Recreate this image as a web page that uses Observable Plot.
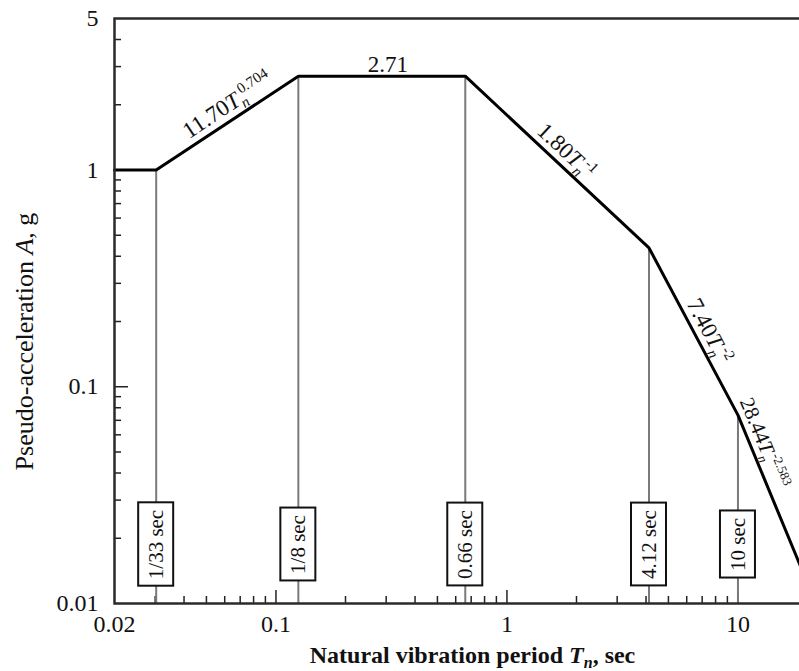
<!DOCTYPE html>
<html>
<head>
<meta charset="utf-8">
<script src="https://cdn.jsdelivr.net/npm/d3@7"></script>
<script src="https://cdn.jsdelivr.net/npm/@observablehq/plot@0.6"></script>
<style>
  html, body { margin: 0; padding: 0; background: #fff; overflow: hidden; }
  #chart svg { display: block; }
</style>
</head>
<body>
<div id="chart"></div>
<script>
// ---------- data ----------
const cornerPeriods = [0.02, 1 / 33, 1 / 8, 0.66, 4.12, 10, 20];
const cornerAccel   = [1, 1, 2.71, 2.71, 0.437, 0.074, 0.0124];

const markedPeriods = [1 / 33, 1 / 8, 0.66, 4.12, 10];
const markedAccel   = [1, 2.71, 2.71, 0.437, 0.074];
const markedLabels  = ["1/33 sec", "1/8 sec", "0.66 sec", "4.12 sec", "10 sec"];

const segStart = [1, 2, 3, 4, 5];
const segCoef  = ["11.70", "2.71", "1.80", "7.40", "28.44"];
const segExp   = ["0.704", null, "-1", "-2", "-2.583"];

const xDomain = [0.02, 20];
const yDomain = [0.01, 5];
const xTicks = [0.02, 0.1, 1, 10];
const xTickLabels = ["0.02", "0.1", "1", "10"];
const yTicks = [0.01, 0.1, 1, 5];
const yTickLabels = ["0.01", "0.1", "1", "5"];
const xMajorTicks = [0.1, 1, 10];
const xMinorTicks = [0.03, 0.04, 0.05, 0.06, 0.07, 0.08, 0.09,
                     0.2, 0.3, 0.4, 0.5, 0.6, 0.7, 0.8, 0.9,
                     2, 3, 4, 5, 6, 7, 8, 9];
const yMajorTicks = [0.1, 1];
const yMinorTicks = [0.02, 0.03, 0.04, 0.05, 0.06, 0.07, 0.08, 0.09,
                     0.2, 0.3, 0.4, 0.5, 0.6, 0.7, 0.8, 0.9,
                     2, 3, 4];

const xTitle = ["Natural vibration period ", "T", "n", ", sec"];
const yTitle = ["Pseudo-acceleration ", "A", ", g"];

// ---------- style ----------
const FONT = "'Liberation Serif', 'Times New Roman', serif";
const segLabelStyle = [
  {t: 0.56, off: 7, size: 23, sub: 15},
  {t: 0.54, off: 4, size: 23, sub: 15},
  {t: 0.50, off: 7, size: 23, sub: 15},
  {t: 0.54, off: 7, size: 23, sub: 15},
  {t: 0.20, off: 7, size: 21, sub: 13}
];
const boxLift = 59, boxFont = 21, boxPadAlong = 7, boxWidth = 35;

const measureCtx = document.createElement("canvas").getContext("2d");
measureCtx.font = `${boxFont}px 'Liberation Serif'`;

function periodBoxes(index, scales, values, dim) {
  const g = d3.create("svg:g");
  const yc = dim.height - dim.marginBottom - boxLift;
  markedPeriods.forEach((T, i) => {
    const L = measureCtx.measureText(markedLabels[i]).width + 2 * boxPadAlong;
    g.append("rect")
      .attr("x", scales.x(T) - boxWidth / 2)
      .attr("y", yc - L / 2)
      .attr("width", boxWidth)
      .attr("height", L)
      .attr("fill", "white")
      .attr("stroke", "#111")
      .attr("stroke-width", 2);
  });
  return g.node();
}

function richLabels(index, scales, values, dim) {
  const g = d3.create("svg:g").attr("font-family", FONT).attr("fill", "#111");
  segCoef.forEach((c, k) => {
    const i = segStart[k];
    const xa = scales.x(cornerPeriods[i]), ya = scales.y(cornerAccel[i]);
    const xb = scales.x(cornerPeriods[i + 1]), yb = scales.y(cornerAccel[i + 1]);
    const dx = xb - xa, dy = yb - ya, len = Math.hypot(dx, dy);
    const ux = dx / len, uy = dy / len;
    const {t, off, size, sub} = segLabelStyle[k];
    const px = xa + t * dx + uy * off, py = ya + t * dy - ux * off;
    const ang = Math.atan2(dy, dx) * 180 / Math.PI;
    const txt = g.append("text")
      .attr("transform", `translate(${px},${py}) rotate(${ang})`)
      .attr("text-anchor", "middle")
      .attr("font-size", size);
    txt.append("tspan").text(c);
    if (segExp[k]) {
      txt.append("tspan").attr("font-style", "italic").text("T");
      txt.append("tspan").attr("font-style", "italic").attr("font-size", sub).attr("dy", 5).text("n");
      txt.append("tspan").attr("font-size", sub).attr("dy", -14).attr("dx", -3).text(segExp[k]);
    }
  });
  // x-axis title
  const cx = (dim.marginLeft + dim.width - dim.marginRight) / 2 + 12;
  const xt = g.append("text")
    .attr("x", cx).attr("y", dim.height - 8)
    .attr("text-anchor", "middle").attr("font-size", 24).attr("font-weight", "bold");
  xt.append("tspan").text(xTitle[0]);
  xt.append("tspan").attr("font-style", "italic").text(xTitle[1]);
  xt.append("tspan").attr("font-style", "italic").attr("font-size", 16).attr("dy", 5).text(xTitle[2]);
  xt.append("tspan").attr("dy", -5).text(xTitle[3]);
  // y-axis title
  const cy = (dim.marginTop + dim.height - dim.marginBottom) / 2 + 31;
  const yt = g.append("text")
    .attr("transform", `translate(33,${cy}) rotate(-90)`)
    .attr("text-anchor", "middle").attr("font-size", 26);
  yt.append("tspan").text(yTitle[0]);
  yt.append("tspan").attr("font-style", "italic").text(yTitle[1]);
  yt.append("tspan").text(yTitle[2]);
  return g.node();
}

const chart = Plot.plot({
  width: 799,
  height: 671,
  marginLeft: 114,
  marginRight: -8,
  marginTop: 18,
  marginBottom: 68,
  style: {fontFamily: FONT, fontSize: "24px", color: "#111", background: "white"},
  x: {
    type: "log", domain: xDomain, label: null,
    ticks: xTicks, tickFormat: d => xTickLabels[xTicks.indexOf(d)],
    tickSize: 0, tickPadding: 11
  },
  y: {
    type: "log", domain: yDomain, label: null, axis: null
  },
  marks: [
    // inward ticks
    Plot.ruleX(xMinorTicks, {x: d => d, y1: yDomain[0], y2: yDomain[0], insetTop: -7, stroke: "#222", strokeWidth: 1.5}),
    Plot.ruleX(xMajorTicks, {x: d => d, y1: yDomain[0], y2: yDomain[0], insetTop: -13, stroke: "#222", strokeWidth: 1.5}),
    Plot.ruleY(yMinorTicks, {y: d => d, x1: xDomain[0], x2: xDomain[0], insetRight: -7, stroke: "#222", strokeWidth: 1.5}),
    Plot.ruleY(yMajorTicks, {y: d => d, x1: xDomain[0], x2: xDomain[0], insetRight: -14, stroke: "#222", strokeWidth: 1.5}),
    // y tick labels
    Plot.text(yTicks, {
      y: d => d, text: (d, i) => yTickLabels[i],
      frameAnchor: "left", dx: -16, textAnchor: "end", lineAnchor: "middle",
      fontSize: 24, fill: "#111"
    }),
    // vertical period lines
    Plot.ruleX(markedPeriods, {x: d => d, y1: yDomain[0], y2: (d, i) => markedAccel[i], stroke: "#7a7a7a", strokeWidth: 2}),
    // spectrum
    Plot.line(cornerPeriods, {x: d => d, y: (d, i) => cornerAccel[i], stroke: "#000", strokeWidth: 3, strokeLinejoin: "miter"}),
    // period boxes and labels
    periodBoxes,
    Plot.text(markedPeriods, {
      x: d => d, text: (d, i) => markedLabels[i],
      frameAnchor: "bottom", dy: -boxLift, rotate: -90,
      textAnchor: "middle", lineAnchor: "middle",
      fontSize: boxFont, fill: "#111"
    }),
    richLabels,
    Plot.frame({stroke: "#2a2a2a", strokeWidth: 2.5})
  ]
});

document.getElementById("chart").appendChild(chart);
</script>
</body>
</html>
